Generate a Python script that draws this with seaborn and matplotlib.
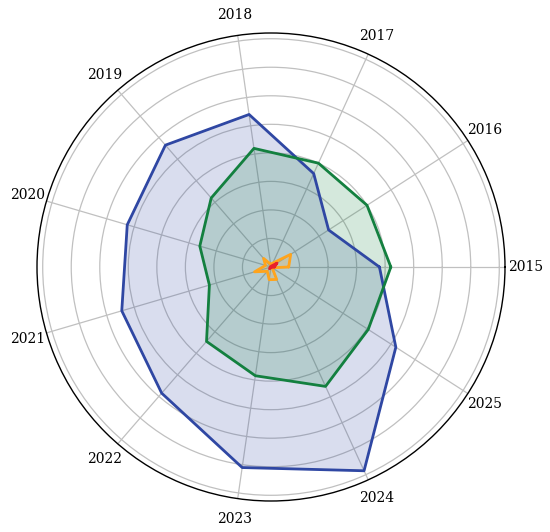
import numpy as np
import pandas as pd
import matplotlib
matplotlib.use("Agg")
import matplotlib.pyplot as plt
import seaborn as sns

years = ["2015", "2016", "2017", "2018", "2019", "2020", "2021", "2022", "2023", "2024", "2025"]
blue_vals = [3.8, 2.4, 3.6, 5.4, 5.65, 5.25, 5.45, 5.85, 7.1, 7.85, 5.2]
green_vals = [4.2, 4.0, 4.0, 4.2, 3.2, 2.6, 2.25, 3.45, 3.85, 4.6, 4.05]
orange_vals = [0.62, 0.82, 0.15, 0.1, 0.4, 0.2, 0.6, 0.2, 0.45, 0.48, 0.05]
red_vals = [0.12, 0.25, 0.04, 0.02, 0.02, 0.02, 0.02, 0.08, 0.02, 0.02, 0.03]

series_names = ["blue", "green", "orange", "red"]
series_values = [blue_vals, green_vals, orange_vals, red_vals]
colors = {"blue": "#2f47a3", "green": "#13803f", "orange": "#ffa41c", "red": "#e8212b"}

sns.set_style("white")
plt.rcParams["font.family"] = ["DejaVu Serif"]
plt.rcParams["text.color"] = "black"
plt.rcParams["xtick.color"] = "black"
plt.rcParams["ytick.color"] = "black"

n = len(years)
angles = np.linspace(0, 2 * np.pi, n, endpoint=False)

rows = []
for name, vals in zip(series_names, series_values):
    for i in range(n + 1):
        j = i % n
        rows.append({"series": name, "theta": angles[j] if i < n else 2 * np.pi, "value": vals[j], "order": i})
df = pd.DataFrame(rows)

fig = plt.figure(figsize=(5.5, 5.32), dpi=100)
ax = fig.add_axes([37 / 550, 31 / 532, 468 / 550, 468 / 532], projection="polar")

for name in series_names:
    sub = df[df["series"] == name]
    ax.fill(sub["theta"], sub["value"], color=colors[name], alpha=0.18, zorder=2)

sns.lineplot(data=df, x="theta", y="value", hue="series", palette=colors, sort=False,
             estimator=None, linewidth=2, ax=ax, legend=False, zorder=3)

ax.set_xticks(angles)
ax.set_xticklabels(years, fontsize=10, color="black")
ax.set_yticks(np.arange(1, 9))
ax.set_yticklabels([])
ax.set_ylim(0, 8.2)
ax.set_xlabel("")
ax.set_ylabel("")
ax.grid(True, color="#c0c0c0", linewidth=0.9)
ax.spines["polar"].set_color("black")
ax.spines["polar"].set_linewidth(1.0)
ax.tick_params(axis="x", pad=4)

fig.savefig("out.png", dpi=100)
